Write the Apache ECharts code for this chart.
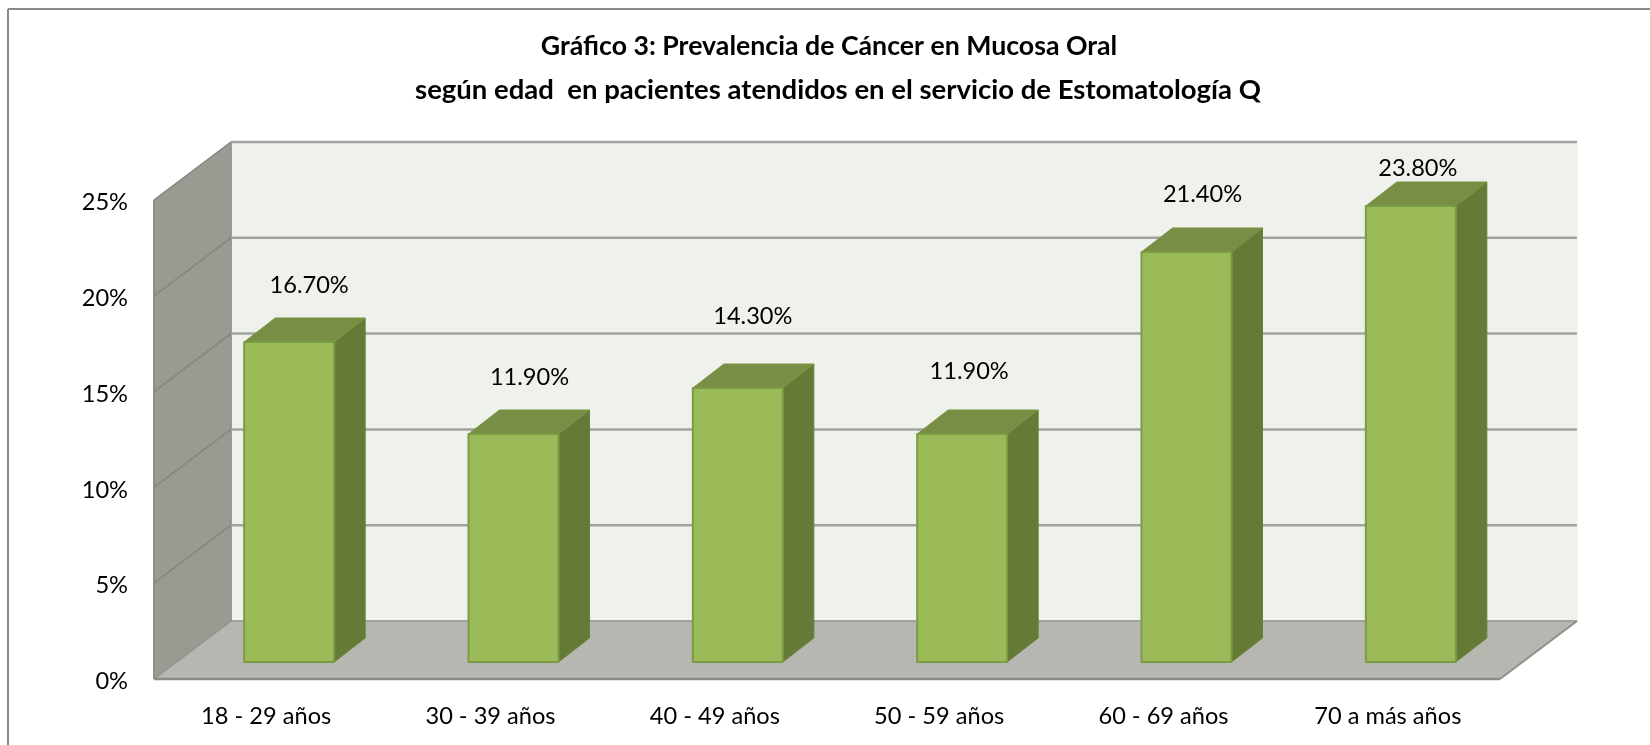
<!DOCTYPE html>
<html>
<head>
<meta charset="utf-8">
<title>Gráfico 3</title>
<script src="https://cdn.jsdelivr.net/npm/echarts@6/dist/echarts.min.js"></script>
<style>
  html, body { margin: 0; padding: 0; background: #fff; }
  #chart { width: 1650px; height: 745px; }
</style>
</head>
<body>
<div id="chart"></div>
<script>
const categories = ["18 - 29 años", "30 - 39 años", "40 - 49 años", "50 - 59 años", "60 - 69 años", "70 a más años"];
const values = [16.7, 11.9, 14.3, 11.9, 21.4, 23.8];
const yTicks = [0, 5, 10, 15, 20, 25];
const titleLines = ["Gráfico 3: Prevalencia de Cáncer en Mucosa Oral", "según edad  en pacientes atendidos en el servicio de Estomatología Q"];

// hand placed data labels in the original, offset from the bar's top back edge
const labelNudge = [[-11, -33], [-15, -33], [-16, -48], [-24, -39], [-15, -34], [-24, -14]];

const FONT = "Lato, Carlito, Calibri, sans-serif";
const WALL_DX = 77;
const WALL_DY = -58;
const BAR_DX = 31;
const BAR_DY = -24;
const BAR_W = 90;
const BAR_SHIFT = 23;
const BAR_LIFT = 17;

const chart = echarts.init(document.getElementById("chart"), null, { renderer: "canvas" });

const poly = (points, fill, stroke, lineWidth) => ({
  type: "polygon",
  shape: { points },
  style: { fill, stroke: stroke || fill, lineWidth: lineWidth || 1, lineJoin: "round" },
});

const line = (points, stroke, lineWidth) => ({
  type: "polyline",
  shape: { points },
  style: { fill: "none", stroke, lineWidth },
});

function renderRoom(params, api) {
  const c = params.coordSys;
  const left = c.x;
  const right = c.x + c.width;
  const top = c.y;
  const bottom = c.y + c.height;
  return {
    type: "group",
    children: [
      // back wall
      poly([[left + WALL_DX, top + WALL_DY], [right + WALL_DX, top + WALL_DY], [right + WALL_DX, bottom + WALL_DY], [left + WALL_DX, bottom + WALL_DY]], "#eff2ec"),
      // side wall
      poly([[left, top], [left + WALL_DX, top + WALL_DY], [left + WALL_DX, bottom + WALL_DY], [left, bottom]], "#999b93"),
      // floor
      poly([[left, bottom], [left + WALL_DX, bottom + WALL_DY], [right + WALL_DX, bottom + WALL_DY], [right, bottom]], "#b5b7b0"),
      line([[left + WALL_DX, bottom + WALL_DY], [right + WALL_DX, bottom + WALL_DY]], "#96978f", 1.5),
      line([[left + WALL_DX, top + WALL_DY], [left + WALL_DX, bottom + WALL_DY]], "#8f908a", 1.5),
      line([[left, bottom], [left + WALL_DX, bottom + WALL_DY]], "#8f908a", 1.5),
      line([[right, bottom], [right + WALL_DX, bottom + WALL_DY]], "#8f908a", 2),
      line([[left, top], [left, bottom]], "#8f908a", 2),
      line([[left, bottom], [right, bottom]], "#8a8b85", 2.5),
    ],
  };
}

function renderTick(params, api) {
  const c = params.coordSys;
  const p = api.coord([0, api.value(1)]);
  const y = p[1];
  const left = c.x;
  const right = c.x + c.width;
  return {
    type: "group",
    children: [
      line([[left, y], [left + WALL_DX, y + WALL_DY]], "#85867f", 1.5),
      line([[left + WALL_DX, y + WALL_DY], [right + WALL_DX, y + WALL_DY]], "#a2a39e", 2.5),
    ],
  };
}

function renderBar(params, api) {
  const i = api.value(0);
  const v = api.value(1);
  const topPt = api.coord([i, v]);
  const basePt = api.coord([i, 0]);
  const x0 = topPt[0] + BAR_SHIFT - BAR_W / 2;
  const x1 = x0 + BAR_W;
  const yt = topPt[1] - BAR_LIFT;
  const yb = basePt[1] - BAR_LIFT;
  const nudge = labelNudge[i];
  return {
    type: "group",
    children: [
      poly([[x1, yt], [x1 + BAR_DX, yt + BAR_DY], [x1 + BAR_DX, yb + BAR_DY], [x1, yb]], "#647a36", "#6b8139", 1),
      poly([[x0, yt], [x0 + BAR_DX, yt + BAR_DY], [x1 + BAR_DX, yt + BAR_DY], [x1, yt]], "#778e44", "#7a9443", 1),
      poly([[x0, yt], [x1, yt], [x1, yb], [x0, yb]], "#9bbb59", "#7c9b46", 2),
      {
        type: "text",
        style: {
          x: (x0 + x1) / 2 + BAR_DX + nudge[0],
          y: yt + BAR_DY + nudge[1],
          text: v.toFixed(2) + "%",
          font: "23.6px " + FONT,
          fill: "#000",
          align: "center",
          verticalAlign: "middle",
        },
      },
    ],
  };
}

const option = {
  animation: false,
  backgroundColor: "#fff",
  title: [
    { text: titleLines[0], left: 824, top: 28, textAlign: "center", textStyle: { fontFamily: FONT, fontSize: 26.7, fontWeight: "bold", color: "#000" } },
    { text: titleLines[1], left: 833, top: 71, textAlign: "center", textStyle: { fontFamily: FONT, fontSize: 27.5, fontWeight: "bold", color: "#000" } },
  ],
  graphic: [
    { type: "line", shape: { x1: 8, y1: 9, x2: 1650, y2: 9 }, style: { stroke: "#8a8a8a", lineWidth: 2 } },
    { type: "line", shape: { x1: 8, y1: 9, x2: 8, y2: 745 }, style: { stroke: "#8a8a8a", lineWidth: 2 } },
  ],
  grid: { left: 154, right: 150, top: 200, bottom: 66 },
  xAxis: {
    type: "category",
    data: categories,
    axisTick: { show: false },
    axisLine: { show: false },
    axisLabel: { fontFamily: FONT, fontSize: 23.6, color: "#000", margin: 25, interval: 0 },
  },
  yAxis: {
    type: "value",
    min: 0,
    max: 25,
    interval: 5,
    axisTick: { show: false },
    axisLine: { show: false },
    splitLine: { show: false },
    axisLabel: { fontFamily: FONT, fontSize: 23.6, color: "#000", margin: 26, verticalAlign: "top", lineHeight: 5, formatter: "{value}%" },
  },
  tooltip: { show: false },
  series: [
    { type: "custom", clip: false, z: 1, silent: true, renderItem: renderRoom, data: [[0, 0]], encode: { x: 0, y: 1 } },
    { type: "custom", clip: false, z: 2, silent: true, renderItem: renderTick, data: yTicks.slice(1).map(t => [0, t]), encode: { x: 0, y: 1 } },
    { type: "custom", clip: false, z: 3, silent: true, renderItem: renderBar, data: values.map((v, i) => [i, v]), encode: { x: 0, y: 1 } },
  ],
};

chart.setOption(option);
</script>
</body>
</html>
